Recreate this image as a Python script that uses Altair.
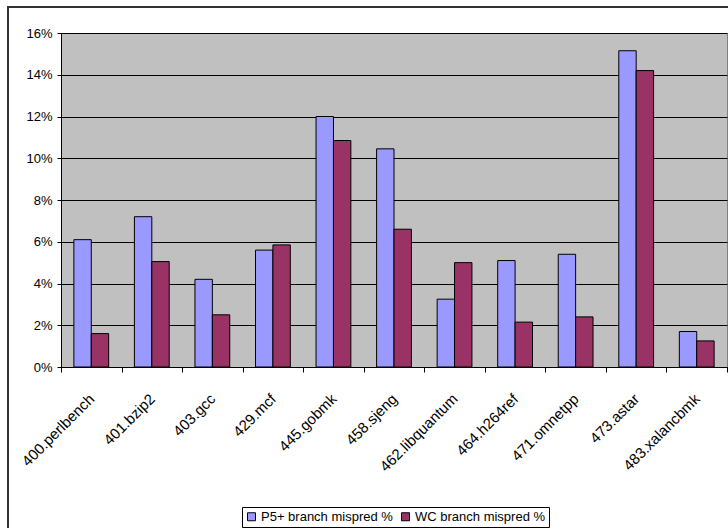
import altair as alt
import pandas as pd

# SPEC CPU2006 integer benchmarks
benchmarks = ["400.perlbench", "401.bzip2", "403.gcc", "429.mcf", "445.gobmk",
              "458.sjeng", "462.libquantum", "464.h264ref", "471.omnetpp",
              "473.astar", "483.xalancbmk"]

# branch misprediction rates, in percent
p5_mispred = [6.1, 7.2, 4.2, 5.6, 12.0, 10.45, 3.25, 5.1, 5.4, 15.15, 1.7]
wc_mispred = [1.6, 5.05, 2.5, 5.85, 10.85, 6.6, 5.0, 2.15, 2.4, 14.2, 1.25]

series_names = ["P5+ branch mispred %", "WC branch mispred %"]
series_colors = ["#9999FF", "#993366"]

rows = []
for name, values in zip(series_names, [p5_mispred, wc_mispred]):
    for bench, v in zip(benchmarks, values):
        rows.append({"benchmark": bench, "series": name, "rate": v / 100.0})
df = pd.DataFrame(rows)

FONT = "Liberation Sans"
W, H = 666, 334

bars = alt.Chart(df).mark_bar(stroke="black", strokeWidth=1).encode(
    x=alt.X("benchmark:N", sort=benchmarks, title=None,
            scale=alt.Scale(paddingInner=0, paddingOuter=0),
            axis=alt.Axis(labelAngle=-45, labelAlign="right", labelBaseline="middle",
                          labelPadding=24, tickSize=5, tickBand="extent",
                          tickColor="black", domainColor="black",
                          labelFont=FONT, labelFontSize=15, labelColor="black",
                          labelLimit=200)),
    xOffset=alt.XOffset("series:N", sort=series_names,
                        scale=alt.Scale(paddingInner=0, paddingOuter=0.74)),
    y=alt.Y("rate:Q", title=None,
            scale=alt.Scale(domain=[0, 0.16], nice=False),
            axis=alt.Axis(format=".0%", values=[i * 0.02 for i in range(9)],
                          tickSize=4, labelPadding=5, grid=True,
                          gridColor="black", gridWidth=1,
                          tickColor="black", domainColor="black",
                          labelFont=FONT, labelFontSize=13, labelColor="black")),
    color=alt.Color("series:N", sort=series_names,
                    scale=alt.Scale(domain=series_names, range=series_colors),
                    legend=alt.Legend(title=None, orient="none", direction="horizontal",
                                      legendX=181, legendY=474,
                                      symbolType="square", symbolSize=64,
                                      symbolStrokeColor="black", symbolStrokeWidth=1,
                                      labelFont=FONT, labelFontSize=13, labelColor="black",
                                      strokeColor="black", padding=3,
                                      columnPadding=6, labelOffset=3)),
)

# outer chart frame
frame = alt.Chart(alt.Data(values=[{}])).mark_rect(
    fill="transparent", stroke="#333333", strokeWidth=2
).encode(
    x=alt.value(-53), x2=alt.value(W + 40),
    y=alt.value(-26), y2=alt.value(H + 250),
)

chart = alt.layer(bars, frame).properties(
    width=W, height=H,
    autosize=alt.AutoSizeParams(type="none"),
    padding={"left": 61, "top": 33, "right": 1, "bottom": 161},
    background="white",
).configure_view(
    fill="#C0C0C0", stroke="#808080", strokeWidth=1
)

chart.save("out.html", embed_options={"renderer": "svg", "actions": False})
